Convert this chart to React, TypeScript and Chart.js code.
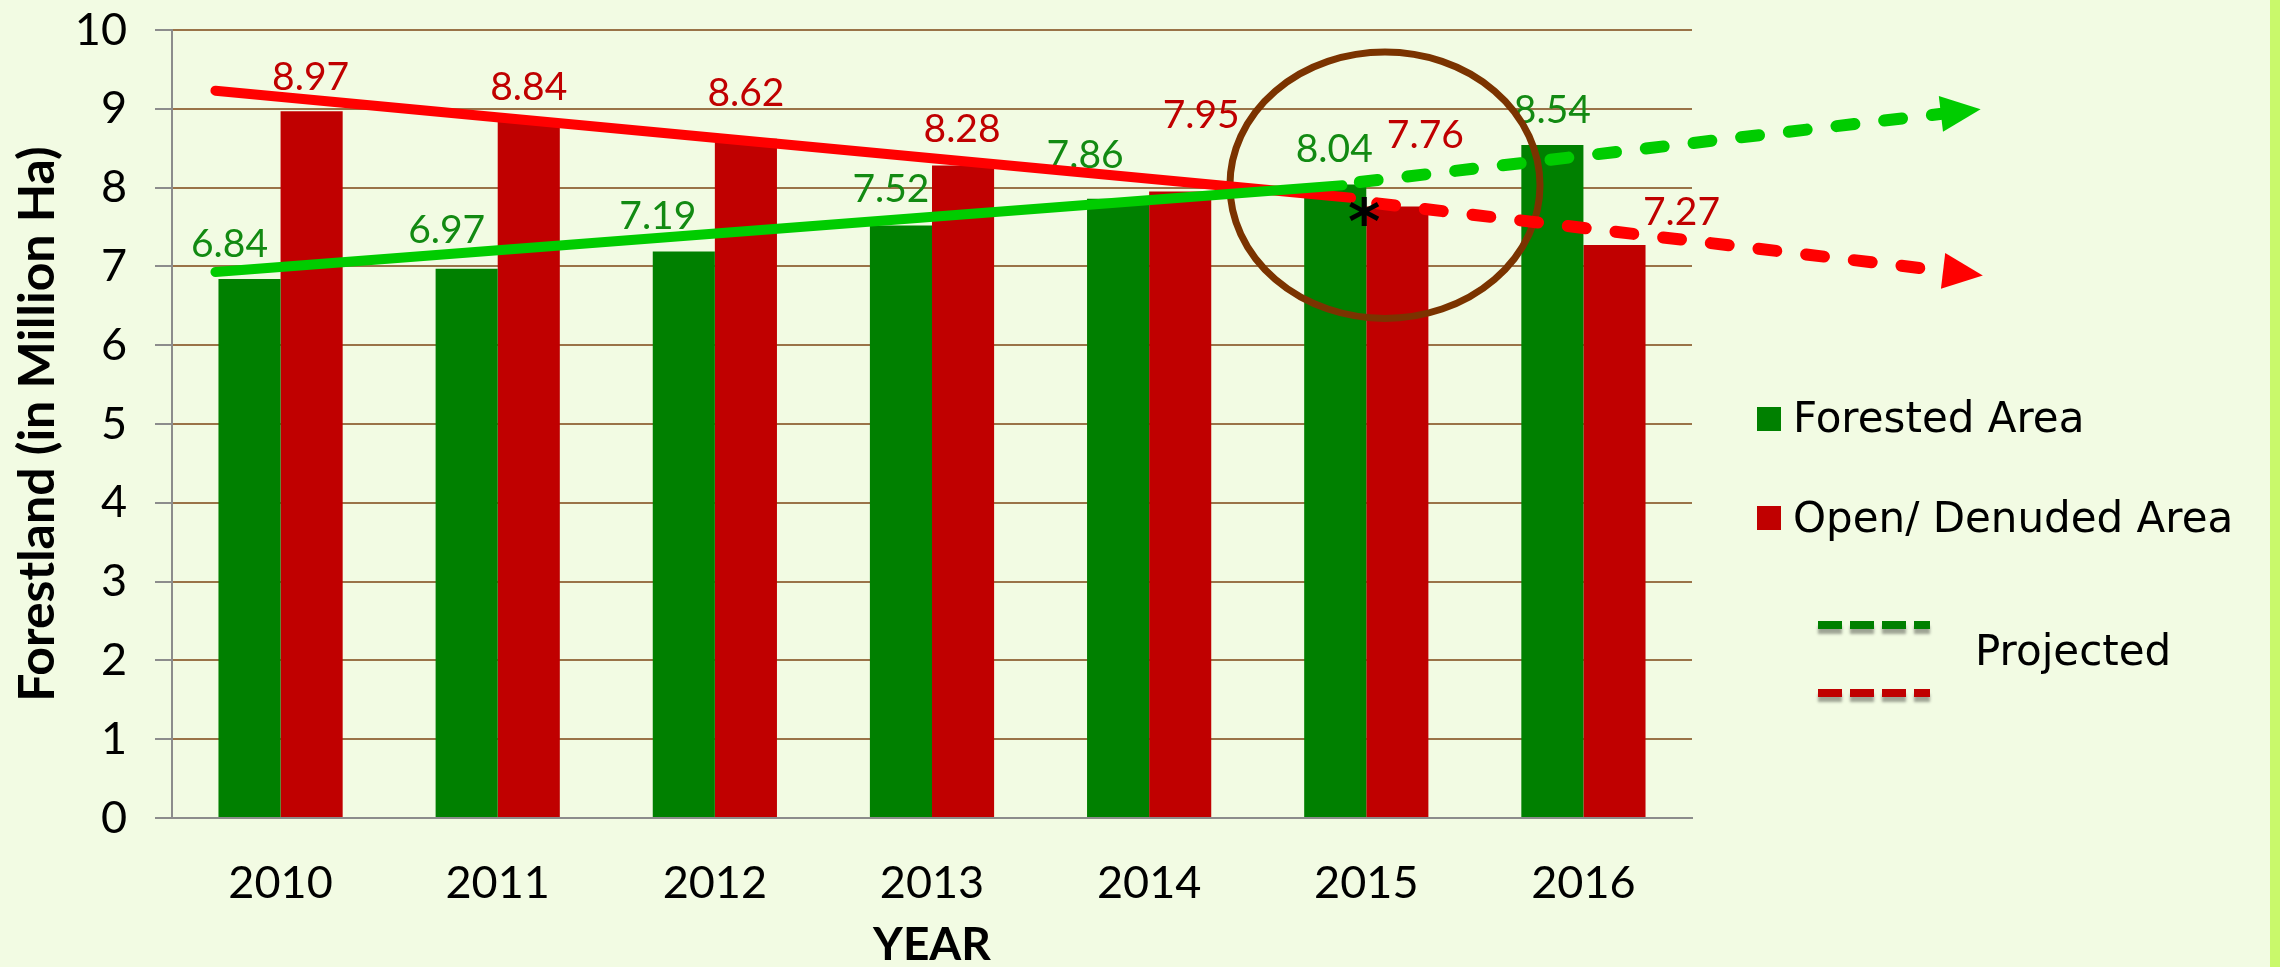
import React, { useEffect, useRef } from 'react';
import { Chart, registerables } from 'chart.js';

Chart.register(...registerables);

// ---------------- data ----------------
const YEARS = ['2010', '2011', '2012', '2013', '2014', '2015', '2016'];
const FORESTED = [6.84, 6.97, 7.19, 7.52, 7.86, 8.04, 8.54];
const OPEN_DENUDED = [8.97, 8.84, 8.62, 8.28, 7.95, 7.76, 7.27];
const SERIES_NAMES = ['Forested Area', 'Open/ Denuded Area'];
const PROJECTED_LABEL = 'Projected';
const Y_MIN = 0;
const Y_MAX = 10;
const Y_STEP = 1;
const X_TITLE = 'YEAR';
const Y_TITLE = 'Forestland (in Million Ha)';

// hand-drawn trend arrows (x in category index units, y in value units)
const FOREST_TREND = [{ x: -0.3, y: 6.93 }, { x: 4.89, y: 8.03 }];
const FOREST_PROJECTION = [{ x: 4.97, y: 8.07 }, { x: 7.66, y: 8.94 }];
const OPEN_TREND = [{ x: -0.3, y: 9.23 }, { x: 4.93, y: 7.87 }];
const OPEN_PROJECTION = [{ x: 5.05, y: 7.8 }, { x: 7.67, y: 6.94 }];

// highlight annotation (data units)
const HIGHLIGHT = { x: 5.086, y: 8.03, rx: 0.714, ry: 1.69 };
const STAR = { x: 4.99, y: 7.7 };

// label nudges in px (manual placements in the original)
const FOREST_LABEL_DX = [-20, -20, -26, -10, -33, -1, 0];
const FOREST_LABEL_DY = [0, -4, 0, -1, -9, 0, 0];
const OPEN_LABEL_DX = [-1, 0, 0, -1, 21, 28, 67];
const OPEN_LABEL_DY = [1, 1, -11, -2, -42, -37, 2];

// ---------------- styles ----------------
const BG = '#F2FBE3';
const STRIPE = '#C9F96B';
const GREEN_BAR = '#008000';
const RED_BAR = '#C00000';
const GREEN_TEXT = '#128A12';
const RED_TEXT = '#C00000';
const GREEN_LINE = '#00CC00';
const RED_LINE = '#FF0000';
const GRID_BROWN = '#9A7348';
const AXIS_GRAY = '#8C8C8C';
const ELLIPSE_COLOR = '#7B3300';
const LABEL_GAP = 22;

const bgPlugin = {
  id: 'bg',
  beforeDraw(chart: any) {
    const { ctx, width, height } = chart;
    ctx.save();
    ctx.fillStyle = BG;
    ctx.fillRect(0, 0, width, height);
    ctx.fillStyle = STRIPE;
    ctx.fillRect(width - 10, 0, 10, height);
    ctx.restore();
  },
};

const overlayPlugin = {
  id: 'overlay',
  afterDatasetDraw(chart: any, args: any) {
    if (args.index !== 0) return; // green bars are the last bar dataset drawn
    const ctx = chart.ctx;
    const xs = chart.scales.x;
    const ys = chart.scales.y;
    ctx.save();
    ctx.font = '39px Lato';
    ctx.textAlign = 'center';
    ctx.textBaseline = 'alphabetic';
    const specs: any[] = [
      [0, FOREST_LABEL_DX, FOREST_LABEL_DY, GREEN_TEXT],
      [1, OPEN_LABEL_DX, OPEN_LABEL_DY, RED_TEXT],
    ];
    specs.forEach(([di, dx, dy, col]) => {
      const meta = chart.getDatasetMeta(di);
      meta.data.forEach((el: any, i: number) => {
        const v = (meta._parsed[i] as any).y as number;
        ctx.fillStyle = col;
        ctx.fillText(v.toFixed(2), el.x + dx[i], el.y - LABEL_GAP + dy[i]);
      });
    });
    // highlight ellipse
    const cx = xs.getPixelForValue(HIGHLIGHT.x);
    const cy = ys.getPixelForValue(HIGHLIGHT.y);
    const rx = Math.abs(xs.getPixelForValue(HIGHLIGHT.x + HIGHLIGHT.rx) - cx);
    const ry = Math.abs(ys.getPixelForValue(HIGHLIGHT.y + HIGHLIGHT.ry) - cy);
    ctx.beginPath();
    ctx.ellipse(cx, cy, rx, ry, 0, 0, Math.PI * 2);
    ctx.lineWidth = 7;
    ctx.strokeStyle = ELLIPSE_COLOR;
    ctx.stroke();
    ctx.restore();
  },
  afterDatasetsDraw(chart: any) {
    const ctx = chart.ctx;
    ctx.save();
    // arrow heads
    [4, 5].forEach((di) => {
      const meta = chart.getDatasetMeta(di);
      const pts = meta.data;
      const p1 = pts[pts.length - 2];
      const p2 = pts[pts.length - 1];
      const dx = p2.x - p1.x;
      const dy = p2.y - p1.y;
      const len = Math.hypot(dx, dy);
      const ux = dx / len;
      const uy = dy / len;
      const px = -uy;
      const py = ux;
      const L = 37;
      const W = 18;
      const bx = p2.x - ux * 3;
      const by = p2.y - uy * 3;
      ctx.beginPath();
      ctx.moveTo(p2.x + ux * L, p2.y + uy * L);
      ctx.lineTo(bx + px * W, by + py * W);
      ctx.lineTo(bx - px * W, by - py * W);
      ctx.closePath();
      ctx.fillStyle = chart.data.datasets[di].borderColor;
      ctx.fill();
    });
    // asterisk
    const sx = chart.scales.x.getPixelForValue(STAR.x);
    const sy = chart.scales.y.getPixelForValue(STAR.y);
    ctx.font = 'bold 62px "DejaVu Sans"';
    ctx.textAlign = 'center';
    ctx.textBaseline = 'alphabetic';
    const m = ctx.measureText('*');
    const off = (m.actualBoundingBoxAscent - m.actualBoundingBoxDescent) / 2;
    ctx.fillStyle = '#000';
    ctx.fillText('*', sx, sy + off);
    ctx.restore();
  },
};

const legendPlugin = {
  id: 'customLegend',
  afterDraw(chart: any) {
    const ctx = chart.ctx;
    const r = chart.chartArea.right;
    ctx.save();
    ctx.font = '42px "DejaVu Sans"';
    ctx.textAlign = 'left';
    ctx.textBaseline = 'alphabetic';
    const items = [
      { color: GREEN_BAR, text: SERIES_NAMES[0], top: 407, base: 432 },
      { color: RED_BAR, text: SERIES_NAMES[1], top: 506, base: 532 },
    ];
    items.forEach((it) => {
      ctx.fillStyle = it.color;
      ctx.fillRect(r + 65, it.top, 24, 24);
      ctx.fillStyle = '#000';
      ctx.fillText(it.text, r + 101, it.base);
    });
    ctx.fillText(PROJECTED_LABEL, r + 283, 665);
    const dashes = [
      { color: GREEN_BAR, cy: 625 },
      { color: RED_BAR, cy: 693 },
    ];
    const widths = [24, 24, 24, 16];
    dashes.forEach((d) => {
      let x = r + 126;
      widths.forEach((w) => {
        ctx.save();
        ctx.shadowColor = 'rgba(0,0,0,0.35)';
        ctx.shadowOffsetY = 5;
        ctx.shadowBlur = 3;
        ctx.fillStyle = d.color;
        ctx.fillRect(x, d.cy - 4, w, 8);
        ctx.restore();
        x += w + 8;
      });
    });
    ctx.restore();
  },
};

export default function App() {
  const ref = useRef<HTMLCanvasElement>(null);

  useEffect(() => {
    const canvas = ref.current;
    if (!canvas) return;
    const lineBase = {
      type: 'line' as const,
      xAxisID: 'x',
      yAxisID: 'y',
      pointRadius: 0,
      borderCapStyle: 'round' as const,
      borderJoinStyle: 'round' as const,
      fill: false,
      tension: 0,
      clip: false as any,
    };
    const barBase = {
      type: 'bar' as const,
      borderWidth: 0,
      categoryPercentage: 0.572,
      barPercentage: 1,
      xAxisID: 'x',
      yAxisID: 'y',
    };
    const chart = new Chart(canvas, {
      type: 'bar',
      data: {
        datasets: [
          { ...barBase, label: SERIES_NAMES[0], data: FORESTED.map((v, i) => ({ x: i, y: v })), backgroundColor: GREEN_BAR, order: 2 } as any,
          { ...barBase, label: SERIES_NAMES[1], data: OPEN_DENUDED.map((v, i) => ({ x: i, y: v })), backgroundColor: RED_BAR, order: 3 } as any,
          { ...lineBase, label: 'Forested trend', data: FOREST_TREND, borderColor: GREEN_LINE, borderWidth: 10, order: 1 } as any,
          { ...lineBase, label: 'Open trend', data: OPEN_TREND, borderColor: RED_LINE, borderWidth: 10, order: 1 } as any,
          { ...lineBase, label: 'Forested projected', data: FOREST_PROJECTION, borderColor: GREEN_LINE, borderWidth: 12, borderDash: [18, 30], order: 0 } as any,
          { ...lineBase, label: 'Open projected', data: OPEN_PROJECTION, borderColor: RED_LINE, borderWidth: 12, borderDash: [18, 30], order: 0 } as any,
        ],
      },
      options: {
        responsive: false,
        animation: false,
        devicePixelRatio: 1,
        events: [],
        layout: { padding: { left: 0, top: 30, right: 588, bottom: 0 } },
        plugins: {
          legend: { display: false },
          tooltip: { enabled: false },
          title: { display: false },
        },
        scales: {
          x: {
            type: 'linear',
            offset: false,
            min: -0.5,
            max: 6.5,
            grid: { display: false, drawTicks: false, tickLength: 0, offset: false },
            border: { display: true, color: AXIS_GRAY, width: 2 },
            afterBuildTicks: (s: any) => {
              s.ticks = YEARS.map((_, i) => ({ value: i }));
            },
            ticks: {
              color: '#000',
              font: { family: 'Lato', size: 45 },
              padding: 38,
              maxRotation: 0,
              autoSkip: false,
              callback: (v: any) => YEARS[Math.round(Number(v))] ?? '',
            },
            title: {
              display: true,
              text: X_TITLE,
              color: '#000',
              font: { family: 'Lato', size: 46, weight: 'bold', lineHeight: 1.2 },
              padding: { top: 0, bottom: -6 },
            },
            afterFit: (s: any) => {
              s.height = 149;
              s.paddingLeft = 0;
              s.paddingRight = 0;
            },
          },
          y: {
            type: 'linear',
            min: Y_MIN,
            max: Y_MAX,
            ticks: {
              stepSize: Y_STEP,
              color: '#000',
              font: { family: 'Lato', size: 45 },
              padding: 28,
            },
            grid: {
              color: (c: any) => (c.tick && c.tick.value === 0 ? AXIS_GRAY : GRID_BROWN),
              lineWidth: 2,
              tickColor: AXIS_GRAY,
              tickLength: 17,
              drawTicks: true,
            },
            border: { display: true, color: AXIS_GRAY, width: 2 },
            title: {
              display: true,
              text: Y_TITLE,
              color: '#000',
              font: { family: 'Lato', size: 50, weight: 'bold', lineHeight: 1.2 },
              padding: { top: 8, bottom: 0 },
            },
            afterFit: (s: any) => {
              s.width = 172;
              s.paddingTop = 0;
              s.paddingBottom = 0;
            },
          },
        } as any,
      },
      plugins: [bgPlugin, overlayPlugin, legendPlugin],
    });
    return () => chart.destroy();
  }, []);

  return (
    <div style={{ position: 'fixed', left: 0, top: 0, width: 2280, height: 967, background: BG }}>
      <canvas ref={ref} width={2280} height={967} style={{ display: 'block', width: 2280, height: 967 }} />
    </div>
  );
}
